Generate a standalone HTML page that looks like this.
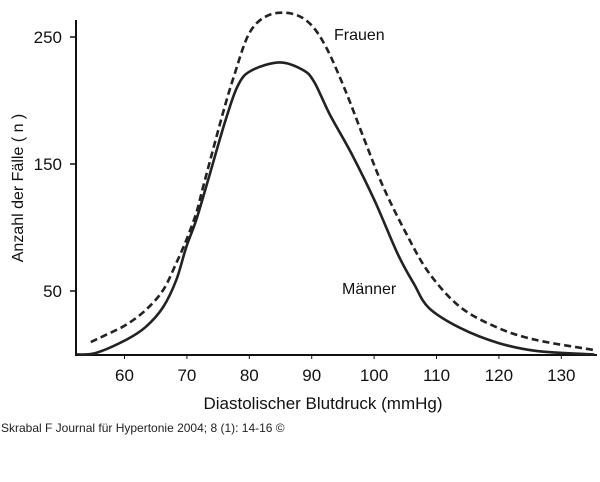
<!DOCTYPE html>
<html><head><meta charset="utf-8"><style>
body{margin:0;background:#fff;width:600px;height:477px;overflow:hidden}
svg text{font-family:"Liberation Sans",sans-serif;fill:#111}
</style></head><body>
<svg id="c" width="600" height="477">
<text x="1" y="432" font-size="12" style="fill:#222">Skrabal F Journal für Hypertonie 2004; 8 (1): 14-16 ©</text>
</svg>
<script>
const xTicks=[60,70,80,90,100,110,120,130];
const yTicks=[50,150,250];
const menV=[52.4,55.4,60.2,63.4,66.2,68.3,69.9,71.5,73.4,76.2,78.3,80.5,84.9,88.6,90.4,92.9,96.4,100.1,103.8,106.4,108.8,113.8,119.9,126,135.3];
const menN=[0,1.2,11.4,21.7,37.4,58.7,84.6,106,137.4,184.6,213,224,230,224,214.6,189,158,121,79,55.5,36.6,20.9,9.1,2.8,0];
const womenV=[54.6,57,60.2,63.4,66.2,68.3,69.9,71.5,72.6,75.6,77.5,80,83,86.7,89.7,92.3,95.3,98.4,101.4,105.1,108.8,113.8,119.9,126,135.3];
const womenN=[9.8,15.4,23.2,35,50.8,72,90,111.4,132,187,218.5,253,267,268.5,260.6,242,209,169.7,132.7,95.7,64.2,37.4,20.9,11.4,3.5];
const X=v=>124.5+(v-60)*6.24;
const Y=n=>354.5-n*1.27;
const svg=document.getElementById('c');
const NS='http://www.w3.org/2000/svg';
function mk(t,a){const e=document.createElementNS(NS,t);for(const k in a)e.setAttribute(k,a[k]);svg.appendChild(e);return e;}
const ya=mk('line',{x1:76,y1:20,x2:76,y2:355,stroke:'#111','stroke-width':2});


const xa=mk('line',{x1:75,y1:355,x2:597,y2:355,stroke:'#111','stroke-width':2});


yTicks.forEach(t=>{
 const l=mk('line',{x1:70,y1:Y(t),x2:76,y2:Y(t),stroke:'#111','stroke-width':1.5});
 
 
 const tx=mk('text',{x:62,y:Y(t)+6,'font-size':17,'text-anchor':'end'});
 tx.textContent=t;
 
 
});
xTicks.forEach(t=>{
 const l=mk('line',{x1:X(t),y1:355,x2:X(t),y2:359,stroke:'#111','stroke-width':1});
 
 
 const tx=mk('text',{x:X(t),y:381,'font-size':17,'text-anchor':'middle'});
 tx.textContent=t;
 
 
});
function path(vs,ns){
 const p=vs.map((v,i)=>[X(v),Y(ns[i])]);
 let d='M'+p[0][0]+','+p[0][1];
 for(let i=0;i<p.length-1;i++){
  const p0=p[i-1]||p[i],p1=p[i],p2=p[i+1],p3=p[i+2]||p2;
  const c1=[p1[0]+(p2[0]-p0[0])/6,p1[1]+(p2[1]-p0[1])/6];
  const c2=[p2[0]-(p3[0]-p1[0])/6,p2[1]-(p3[1]-p1[1])/6];
  d+=' C'+c1+' '+c2+' '+p2;
 }
 return d;
}
const w=mk('path',{d:path(womenV,womenN),fill:'none',stroke:'#222','stroke-width':2.6,'stroke-dasharray':'7 4'});


const m=mk('path',{d:path(menV,menN),fill:'none',stroke:'#222','stroke-width':2.6});


const lf=mk('text',{x:334,y:40,'font-size':16});lf.textContent='Frauen';


const lm=mk('text',{x:342,y:294,'font-size':16});lm.textContent='Männer';


const xt=mk('text',{x:323,y:409,'font-size':17,'text-anchor':'middle'});xt.textContent='Diastolischer Blutdruck (mmHg)';


const yt=mk('text',{x:0,y:0,'font-size':16,'text-anchor':'middle',transform:'translate(23,188) rotate(-90)'});yt.textContent='Anzahl der Fälle  ( n )';


</script>
</body></html>
